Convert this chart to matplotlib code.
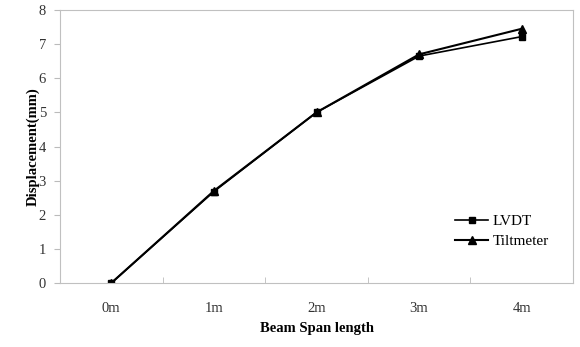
import numpy as np
import matplotlib.pyplot as plt

plt.rcParams['font.family'] = ['Liberation Serif', 'DejaVu Serif']

categories = ['0m', '1m', '2m', '3m', '4m']
lvdt = [0.0, 2.68, 5.0, 6.65, 7.22]
tiltmeter = [0.0, 2.7, 5.0, 6.7, 7.45]

x = np.arange(len(categories))

fig = plt.figure(figsize=(5.8, 3.47), dpi=100)
ax = fig.add_axes([60 / 580, 64 / 347, 513 / 580, 273 / 347])

ax.plot(x, lvdt, color='black', lw=1.2, marker='s', ms=4, label='LVDT')
ax.plot(x, tiltmeter, color='black', lw=1.5, marker='^', ms=6, label='Tiltmeter')

ax.set_xlim(-0.5, 4.5)
ax.set_ylim(0, 8)
ax.set_yticks(range(0, 9))
ax.set_xticks(x)
ax.set_xticklabels(categories, fontsize=10.5)
ax.set_xticks(x[:-1] + 0.5, minor=True)
ax.tick_params(axis='x', which='major', length=0, pad=14, colors='#333333')
ax.tick_params(axis='x', which='minor', length=4, direction='in', color='#bbbbbb')
ax.tick_params(axis='y', length=4, direction='out', labelsize=10.5, colors='#333333', pad=6)
ax.tick_params(axis='y', color='#bbbbbb')
for s in ax.spines.values():
    s.set_color('#c0c0c0')

ax.set_xlabel('Beam Span length', fontweight='bold', fontsize=10.5, labelpad=5)
ax.set_ylabel('Displacement(mm)', fontweight='bold', fontsize=10.5)
ax.yaxis.set_label_coords(-0.04, 0.5)

ax.legend(loc='upper left', bbox_to_anchor=(441 / 580, 1 - 201 / 347),
          bbox_transform=fig.transFigure, frameon=False, fontsize=11,
          handlelength=2.2, handletextpad=0.3, labelspacing=0.4)

fig.savefig('out.png', dpi=100)
